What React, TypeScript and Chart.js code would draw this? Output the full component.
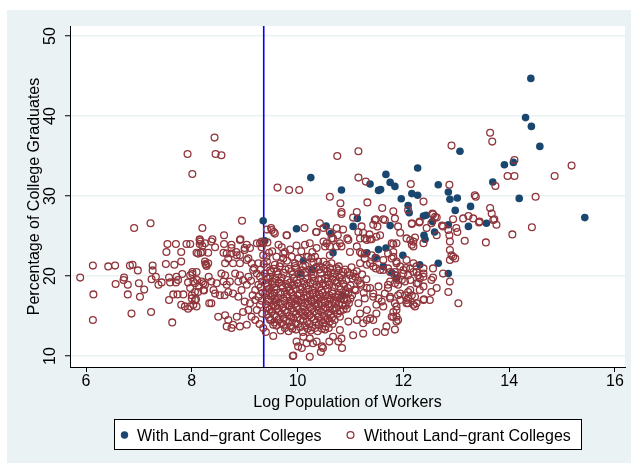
import React, { useEffect, useRef } from 'react';
import { Chart, registerables } from 'chart.js';

Chart.register(...registerables);

const FONT = '"Liberation Sans", Arial, Helvetica, sans-serif';
const NAVY = '#1A476F';
const MAROON = '#90353B';
const BG = '#EAF2F3';

const xTitle = 'Log Population of Workers';
const yTitle = 'Percentage of College Graduates';
const legendLabels = ['With Land\u2212grant Colleges', 'Without Land\u2212grant Colleges'];

const xTicks = [6, 8, 10, 12, 14, 16];
const yTicks = [10, 20, 30, 40, 50];
const xRange = [5.6975, 16.19];
const yRange = [8.625, 51.25];
const cutoffX = 9.36;

const withLandGrant: [number, number][] = [
  [9.35, 26.9], [9.38, 24.4], [9.98, 25.9], [10.25, 32.3], [10.83, 30.75], [10.54, 26.25],
  [10.63, 25.3], [11.05, 26.2], [11.13, 27.2], [11.37, 31.5], [11.53, 30.7], [11.57, 30.8],
  [11.67, 32.7], [11.75, 31.7], [11.84, 31.2], [11.96, 29.65], [12.09, 28.8], [12.11, 27.9],
  [12.16, 30.3], [12.27, 30.1], [12.27, 33.5], [12.38, 27.5], [12.43, 27.6], [12.55, 26.8],
  [12.66, 31.4], [12.85, 30.5], [12.85, 26.4], [12.39, 25.1], [12.41, 24.6], [11.75, 26.3],
  [11.31, 22.9], [11.53, 23.3], [11.67, 23.5], [10.11, 21.9], [10.06, 20.3], [10.28, 20.8],
  [10.67, 22.9], [11.47, 22.3], [11.62, 21.2], [11.99, 22.6], [11.78, 20.4], [11.87, 19.7],
  [12.31, 21.4], [12.66, 21.6], [12.85, 20.3], [10.86, 17.6], [14.41, 44.7], [14.31, 39.8],
  [14.42, 38.7], [14.58, 36.2], [13.07, 35.6], [13.91, 33.9], [14.08, 34.2], [13.69, 31.75],
  [14.19, 29.7], [15.43, 27.3], [12.88, 29.6], [13.02, 29.75], [13.27, 28.7], [12.98, 28.2],
  [13.57, 26.6], [13.23, 26.2], [12.59, 25.5],
];

const withoutLandGrant: [number, number][] = [
  // sparse left
  [5.89, 19.8], [6.13, 21.3], [6.42, 21.2], [6.55, 21.3], [6.83, 21.3], [6.88, 21.4], [6.98, 20.7],
  [6.72, 19.8], [6.71, 19.5], [6.56, 19.0], [6.79, 18.9], [7.0, 19.1], [7.1, 18.3], [6.14, 17.7],
  [6.79, 17.7], [7.02, 17.4], [6.86, 15.3], [7.23, 15.5], [6.13, 14.5], [7.63, 14.2],
  [6.91, 26.0], [7.22, 26.6], [8.2, 26.0],
  [7.26, 21.3], [7.26, 20.7], [7.24, 19.6], [7.32, 19.9], [7.37, 18.9], [7.43, 19.2], [7.51, 21.5],
  [7.52, 23.0], [7.54, 24.0], [7.7, 24.0], [7.8, 23.0], [7.67, 21.4], [7.8, 21.8], [7.9, 24.0],
  [7.97, 24.0], [7.57, 19.8], [7.71, 19.9], [7.74, 19.5], [7.82, 20.25], [7.59, 19.2], [7.7, 19.2],
  [7.93, 19.2], [8.01, 20.5], [8.01, 20.25], [7.57, 17.0], [7.65, 17.7], [7.73, 17.7], [7.84, 17.7],
  [7.8, 16.4], [7.87, 16.2], [7.93, 15.9], [7.97, 16.2], [8.03, 16.4], [8.09, 16.2], [8.0, 17.6],
  [8.08, 17.1], [8.15, 24.5], [8.15, 24.0], [8.2, 23.75], [8.17, 22.9], [8.09, 22.9], [8.26, 21.5],
  [8.28, 21.25], [8.27, 21.4], [8.1, 19.5], [8.22, 19.1], [8.23, 18.2], [8.14, 18.7], [8.06, 19.1],
  [8.33, 16.6], [8.32, 19.9],
  // upper outliers
  [8.43, 37.3], [7.92, 35.25], [8.45, 35.25], [8.56, 35.1], [8.01, 32.75], [8.61, 25.1], [8.95, 26.9],
  [8.92, 24.6], [8.15, 24.6], [8.39, 24.6], [9.62, 31.05], [9.84, 30.75], [10.03, 30.75], [9.42, 25.8],
  [9.5, 26.0], [9.55, 25.5], [9.8, 25.1], [10.13, 26.0], [10.35, 25.5], [10.42, 26.6],
  // left-middle
  [8.16, 24.3], [8.25, 24.1], [8.37, 24.3], [8.44, 23.6], [8.61, 24.0], [8.75, 23.9], [8.12, 22.8],
  [8.2, 23.0], [8.31, 22.9], [8.91, 24.5], [9.0, 23.5], [9.04, 23.9], [8.75, 22.8], [8.84, 23.0],
  [8.91, 22.6], [8.6, 22.9], [8.69, 22.2], [8.63, 21.6], [8.25, 21.8], [8.31, 21.6], [8.09, 20.5],
  [7.97, 20.1], [8.03, 19.3], [8.19, 19.3], [8.25, 18.9], [8.22, 18.25], [8.12, 18.0], [8.06, 18.0],
  [7.97, 18.5], [8.0, 17.2], [8.06, 17.0], [8.37, 19.3], [8.47, 19.1], [8.41, 18.25], [8.44, 17.8],
  [8.53, 17.6], [8.37, 16.6], [8.56, 20.3], [8.63, 20.1], [8.6, 19.3], [8.66, 18.9], [8.72, 19.3],
  [8.82, 20.3], [8.91, 20.1], [8.88, 19.3], [8.97, 19.5], [9.07, 19.9], [9.04, 18.9], [8.94, 18.25],
  [8.62, 17.6], [8.69, 18.0], [8.78, 17.8], [8.88, 17.4], [9.0, 16.8], [9.1, 16.6], [8.5, 14.9],
  [8.63, 15.1], [8.69, 14.5], [8.78, 13.9], [8.91, 13.7], [8.75, 13.5], [8.66, 13.7], [8.85, 14.9],
  [8.97, 15.5], [9.07, 15.75], [9.13, 14.9], [9.04, 13.9], [9.2, 14.5], [9.23, 15.75], [9.29, 16.4],
  [9.26, 17.4], [9.2, 18.25], [9.07, 22.2], [9.13, 21.6], [9.16, 20.75], [9.23, 20.3], [9.29, 19.9],
  [9.26, 18.9], [9.26, 21.6], [9.29, 24.1], [9.32, 24.3], [9.43, 24.2], [9.51, 25.75], [9.57, 25.3],
  [9.35, 22.6], [9.41, 22.4], [9.79, 25.1], [9.6, 22.4], [9.76, 23.0], [9.73, 22.2], [9.48, 19.9],
  [9.57, 19.1], [9.48, 17.8], [9.57, 17.2], [9.51, 16.2], [9.48, 14.5], [9.54, 13.9], [9.35, 13.5],
  [9.54, 12.5], [9.92, 10.05], [10.01, 11.2], [8.78, 21.6], [8.91, 21.6], [9.04, 22.0], [8.66, 22.8],
  [8.85, 22.6], [8.75, 23.5], [9.0, 23.25], [9.1, 23.5], [9.23, 24.1], [9.35, 24.1], [9.32, 23.6],
  [9.3, 20.8], [9.18, 21.0], [9.33, 19.3], [9.3, 18.6], [9.34, 17.9], [9.15, 17.6], [9.2, 17.0],
  [9.32, 16.9], [9.33, 15.3], [9.28, 14.0], [9.4, 13.0], [9.12, 19.4], [9.36, 21.5], [9.42, 21.8],
  // middle band
  [10.83, 27.75], [11.05, 27.3], [11.46, 27.0], [11.65, 27.0], [11.84, 27.2], [10.36, 25.5],
  [10.49, 26.0], [10.74, 26.0], [10.86, 25.8], [11.15, 25.5], [11.24, 25.4], [11.43, 26.4],
  [11.51, 26.2], [11.56, 25.1], [11.49, 24.9], [11.37, 24.6], [11.27, 24.7], [11.18, 24.7],
  [11.94, 25.4], [11.87, 24.1], [10.49, 24.3], [10.55, 24.1], [10.61, 23.7], [10.64, 24.7],
  [10.8, 24.1], [10.83, 23.7], [10.99, 23.0], [10.96, 24.5], [10.23, 24.1], [10.14, 23.9],
  [10.2, 22.4], [10.33, 22.4], [10.39, 21.8], [9.95, 21.6], [10.01, 22.2], [9.89, 22.4],
  [10.49, 21.8], [10.55, 21.4], [10.64, 21.6], [10.42, 21.2], [11.18, 23.0], [11.27, 22.8],
  [11.4, 22.6], [11.49, 22.2], [11.62, 22.0], [11.71, 22.8], [11.81, 22.4], [11.87, 21.6],
  [11.18, 21.6], [11.31, 21.4], [11.43, 21.2], [11.56, 20.75], [11.71, 20.95], [11.84, 20.5],
  [10.74, 20.95], [10.86, 20.5], [10.99, 20.1], [11.09, 19.9], [10.67, 19.9], [10.58, 20.1],
  [9.7, 23.6], [9.86, 23.3], [9.98, 23.8], [10.07, 23.1], [10.28, 23.0], [9.64, 23.9], [9.52, 23.1],
  [9.46, 22.9], [9.68, 21.6], [9.8, 21.9], [10.15, 21.3], [10.3, 21.7], [9.57, 21.4],
  // bottom
  [9.98, 11.8], [10.11, 12.4], [10.23, 12.2], [10.36, 11.8], [10.46, 11.2], [10.67, 12.4],
  [10.83, 12.2], [11.05, 12.6], [11.24, 12.8], [11.49, 13.0], [11.65, 13.0], [9.91, 10.0],
  [10.23, 9.9], [10.44, 10.5], [10.08, 11.0], [10.48, 11.0], [10.84, 11.0], [10.17, 11.6],
  [10.29, 11.6], [10.6, 11.8], [10.77, 11.8],
  // right of core
  [11.31, 15.75], [11.49, 16.4], [11.59, 16.8], [11.75, 17.2], [11.81, 14.9], [11.68, 13.7],
  [11.37, 18.5], [11.53, 18.7], [11.71, 18.5], [11.65, 17.8], [11.43, 17.4], [11.27, 17.2],
  [11.15, 16.6], [11.84, 20.1], [11.75, 19.3], [11.9, 18.9], [11.9, 17.6], [10.8, 14.9],
  [10.96, 14.3], [11.12, 14.5], [11.24, 14.1], [11.37, 14.7], [10.8, 13.25], [11.12, 20.6],
  [11.22, 20.2], [11.3, 19.6], [11.2, 18.9], [11.1, 18.2], [11.25, 17.9],
  // upper right
  [12.14, 31.5], [12.87, 31.4], [13.35, 30.1], [13.37, 29.9], [12.38, 29.3], [11.81, 28.1],
  [12.09, 28.25], [12.56, 27.7], [12.63, 27.3], [12.94, 27.1], [13.13, 27.2], [13.23, 27.5],
  [13.32, 27.2], [13.44, 26.8], [13.64, 28.5], [13.67, 27.8], [13.7, 27.0], [13.76, 26.4],
  [11.9, 26.2], [12.16, 26.6], [12.31, 26.8], [12.44, 26.0], [12.75, 26.2], [12.85, 25.75],
  [13.0, 26.0], [13.02, 25.5], [13.16, 24.4], [12.87, 25.1], [12.88, 24.3], [13.56, 24.2],
  [12.06, 24.7], [12.13, 24.5], [12.19, 24.3], [12.16, 23.9], [12.22, 24.8], [12.38, 24.1],
  [11.78, 24.1], [11.81, 23.0], [12.88, 23.25], [12.91, 22.6], [12.94, 22.4], [12.88, 22.0],
  [12.98, 22.2], [12.56, 20.95], [12.56, 19.8], [12.38, 20.95], [12.25, 21.2], [12.19, 20.5],
  [12.09, 20.1], [12.0, 20.3], [11.94, 21.2], [11.87, 21.8], [11.78, 22.2], [12.31, 19.7],
  [12.38, 18.7], [12.25, 19.1], [12.13, 19.5], [12.03, 19.3], [11.9, 19.5], [11.84, 19.1],
  [12.53, 18.0], [12.85, 18.0], [13.04, 16.6], [12.38, 17.0], [12.22, 17.4], [12.19, 16.4],
  [12.06, 16.6], [11.94, 17.0], [11.87, 16.2], [11.81, 15.5], [11.84, 13.3], [11.87, 14.9],
  [11.9, 14.5], [12.13, 18.25], [12.16, 17.6], [12.09, 17.2],
  [12.91, 36.3], [13.64, 37.9], [13.68, 36.8], [14.1, 34.5], [13.97, 32.5], [14.1, 32.5],
  [15.18, 33.8], [14.86, 32.5], [13.74, 31.25], [14.5, 29.9], [13.72, 27.1], [13.43, 26.7],
  [12.73, 26.3], [12.63, 25.1], [12.3, 26.7], [12.16, 26.5], [14.06, 25.2], [14.43, 26.1],
  [12.88, 19.3], [12.06, 22.0], [12.19, 21.6], [12.05, 21.0], [12.28, 20.1], [12.38, 20.3],
  [12.28, 19.1], [12.31, 18.25], [12.39, 17.1], [12.25, 16.6], [12.09, 18.0], [12.06, 17.0],
  [11.97, 19.5], [11.94, 17.8],
  [10.75, 35.0], [11.15, 35.6], [11.15, 32.3], [11.29, 31.8], [11.32, 29.2], [10.61, 29.9],
  [10.81, 29.1], [10.83, 28.0], [11.12, 28.0], [11.6, 28.5], [11.48, 27.1], [11.62, 27.1],
  [10.61, 25.5], [10.67, 24.7], [10.76, 25.1], [10.94, 24.7], [11.21, 26.2], [11.36, 25.2],
  [11.31, 24.5], [11.4, 24.6], [11.81, 24.0], [12.19, 23.7], [12.55, 27.8], [12.6, 27.4],
  [12.53, 26.6], [9.73, 22.8], [9.95, 21.25], [10.17, 22.4], [10.26, 22.2], [10.36, 23.5],
  [10.52, 23.7], [10.61, 22.6], [10.74, 23.7], [11.12, 23.7], [11.21, 22.8], [11.27, 22.2],
  [11.37, 21.6], [11.48, 20.95], [11.62, 20.75], [11.75, 20.5], [11.87, 20.1], [12.0, 20.75],
  [12.13, 20.95], [12.25, 20.5], [12.38, 19.9], [12.53, 19.5], [12.75, 20.3], [11.18, 19.1],
  [11.31, 18.5], [11.43, 17.8], [11.53, 17.2], [11.62, 16.2], [11.49, 15.3], [11.43, 14.5],
  [11.31, 14.5], [11.18, 15.3], [11.71, 18.9], [11.75, 17.4], [11.84, 16.6], [11.87, 15.75],
  [11.78, 14.9], [11.87, 14.3], [12.03, 17.6], [12.09, 16.6], [12.22, 16.2], [12.5, 17.0],
  [12.63, 18.5],
  // dense core
  [9.42, 21.1], [9.55, 20.9], [9.66, 21.2], [9.83, 20.9], [9.97, 21.0], [10.1, 21.2], [10.22, 20.8],
  [10.35, 21.1], [10.5, 20.9], [10.61, 21.0], [10.78, 21.2], [10.9, 20.8], [11.02, 21.1],
  [9.38, 20.3], [9.5, 20.5], [9.63, 20.2], [9.74, 20.4], [9.88, 20.6], [10.02, 20.3], [10.15, 20.5],
  [10.3, 20.2], [10.44, 20.4], [10.56, 20.6], [10.7, 20.3], [10.83, 20.1], [10.95, 20.5], [11.06, 20.3],
  [9.44, 19.7], [9.58, 19.6], [9.7, 19.8], [9.81, 19.5], [9.93, 19.7], [10.05, 19.9], [10.18, 19.6],
  [10.27, 19.8], [10.4, 19.5], [10.52, 19.7], [10.66, 19.6], [10.79, 19.8], [10.92, 19.5], [11.04, 19.7],
  [11.14, 19.4],
  [9.4, 19.1], [9.52, 18.9], [9.65, 19.2], [9.78, 19.0], [9.9, 18.8], [10.0, 19.1], [10.13, 19.0],
  [10.24, 19.2], [10.36, 18.9], [10.48, 19.1], [10.6, 18.9], [10.74, 19.2], [10.87, 19.0], [11.0, 18.8],
  [9.46, 18.4], [9.6, 18.3], [9.72, 18.5], [9.85, 18.2], [9.96, 18.4], [10.09, 18.6], [10.2, 18.3],
  [10.33, 18.5], [10.45, 18.2], [10.57, 18.4], [10.69, 18.6], [10.82, 18.3], [10.95, 18.5], [11.08, 18.3],
  [9.39, 17.8], [9.53, 17.6], [9.67, 17.9], [9.8, 17.7], [9.92, 17.5], [10.04, 17.8], [10.16, 17.6],
  [10.29, 17.9], [10.41, 17.7], [10.53, 17.5], [10.66, 17.8], [10.78, 17.7], [10.9, 17.9], [11.03, 17.6],
  [9.45, 17.1], [9.59, 17.0], [9.73, 17.2], [9.86, 16.9], [9.99, 17.1], [10.12, 17.3], [10.25, 17.0],
  [10.38, 17.2], [10.5, 16.9], [10.62, 17.1], [10.75, 17.3], [10.88, 17.0], [11.0, 17.2],
  [9.4, 16.5], [9.54, 16.4], [9.68, 16.6], [9.82, 16.3], [9.95, 16.5], [10.07, 16.7], [10.2, 16.4],
  [10.32, 16.6], [10.46, 16.3], [10.58, 16.5], [10.71, 16.7], [10.85, 16.4], [10.97, 16.6],
  [9.47, 15.8], [9.62, 15.9], [9.76, 15.7], [9.89, 16.0], [10.02, 15.8], [10.15, 15.6], [10.27, 15.9],
  [10.4, 15.7], [10.53, 16.0], [10.66, 15.8], [10.8, 15.6], [10.93, 15.9],
  [9.42, 15.2], [9.57, 15.1], [9.7, 15.3], [9.84, 15.0], [9.97, 15.2], [10.1, 15.4], [10.23, 15.1],
  [10.36, 15.3], [10.5, 15.0], [10.63, 15.2], [10.76, 15.3],
  [9.5, 14.5], [9.64, 14.6], [9.78, 14.4], [9.92, 14.7], [10.05, 14.5], [10.18, 14.3], [10.31, 14.6],
  [10.44, 14.4], [10.57, 14.7], [10.7, 14.5],
  [9.6, 13.8], [9.74, 13.9], [9.88, 13.7], [10.01, 14.0], [10.14, 13.8], [10.27, 13.6], [10.4, 13.9],
  [10.53, 13.7], [10.66, 14.0],
  [9.68, 13.2], [9.83, 13.1], [9.97, 13.3], [10.1, 13.0], [10.25, 13.2], [10.38, 13.1], [10.52, 13.3],
  // dense core, second layer
  [9.48, 20.7], [9.61, 20.6], [9.77, 20.8], [9.91, 20.2], [10.08, 20.7], [10.26, 20.5], [10.41, 20.8],
  [10.63, 20.4], [10.77, 20.7], [9.41, 19.9], [9.53, 19.3], [9.69, 19.4], [9.86, 19.2], [9.99, 19.5],
  [10.11, 19.3], [10.31, 19.4], [10.45, 19.6], [10.57, 19.3], [10.71, 19.4], [10.84, 19.5],
  [9.43, 18.7], [9.56, 18.6], [9.7, 18.8], [9.82, 18.6], [9.94, 18.9], [10.05, 18.3], [10.17, 18.8],
  [10.28, 18.2], [10.41, 18.6], [10.53, 18.8], [10.65, 18.1], [10.78, 18.7], [10.91, 18.1],
  [9.42, 18.1], [9.56, 17.9], [9.76, 18.0], [9.88, 17.9], [10.0, 17.6], [10.11, 18.0], [10.23, 17.7],
  [10.36, 17.5], [10.47, 17.9], [10.6, 17.6], [10.71, 17.4], [10.84, 17.5], [10.96, 17.8],
  [9.5, 17.4], [9.63, 17.3], [9.79, 17.4], [9.93, 17.2], [10.07, 17.0], [10.19, 17.3], [10.32, 17.0],
  [10.44, 17.4], [10.56, 17.2], [10.69, 16.9], [10.82, 17.2], [10.94, 16.9],
  [9.45, 16.8], [9.6, 16.7], [9.75, 16.9], [9.88, 16.6], [10.01, 16.9], [10.14, 16.6], [10.26, 16.8],
  [10.39, 16.5], [10.52, 16.7], [10.64, 16.4], [10.78, 16.6], [10.91, 16.3],
  [9.44, 16.1], [9.58, 16.2], [9.71, 16.0], [9.85, 16.3], [9.98, 16.1], [10.11, 16.2], [10.24, 16.1],
  [10.36, 16.2], [10.49, 15.8], [10.61, 16.1], [10.73, 16.0], [10.87, 15.8],
  [9.5, 15.5], [9.64, 15.6], [9.8, 15.4], [9.93, 15.6], [10.06, 15.5], [10.19, 15.3], [10.31, 15.6],
  [10.45, 15.5], [10.58, 15.4], [10.7, 15.7],
  [9.46, 14.8], [9.6, 14.9], [9.74, 14.7], [9.88, 14.9], [10.0, 14.8], [10.13, 15.0], [10.26, 14.8],
  [10.4, 14.9], [10.52, 14.5], [10.65, 14.8],
  [9.56, 14.2], [9.7, 14.1], [9.84, 14.3], [9.97, 14.1], [10.1, 14.4], [10.22, 14.0], [10.35, 14.2],
  [10.48, 14.1], [10.61, 14.3], [9.76, 13.5], [9.9, 13.4], [10.05, 13.6], [10.19, 13.4], [10.33, 13.5],
  [10.46, 13.4], [10.59, 13.5],
];

function App() {
  const canvasRef = useRef<HTMLCanvasElement | null>(null);

  useEffect(() => {
    const canvas = canvasRef.current;
    if (!canvas) return;

    const decor = {
      id: 'decor',
      beforeDraw(chart: any) {
        const { ctx, chartArea } = chart;
        ctx.save();
        ctx.fillStyle = '#ffffff';
        ctx.fillRect(0, 0, chart.width, chart.height);
        ctx.fillStyle = BG;
        ctx.fillRect(7, 10, chart.width - 7, 453);
        ctx.fillStyle = '#ffffff';
        ctx.fillRect(chartArea.left, chartArea.top, chartArea.right - chartArea.left, chartArea.bottom - chartArea.top);
        ctx.restore();
      },
      afterDraw(chart: any) {
        const { ctx, chartArea } = chart;
        const ys = chart.scales.y;
        const cx = (chartArea.left + chartArea.right) / 2;
        const cy = (chartArea.top + chartArea.bottom) / 2;
        ctx.save();
        ctx.fillStyle = '#000000';
        ctx.font = `16px ${FONT}`;
        ctx.textAlign = 'center';
        ctx.textBaseline = 'alphabetic';
        yTicks.forEach((v) => {
          const py = ys.getPixelForValue(v);
          ctx.save();
          ctx.translate(55, py);
          ctx.rotate(-Math.PI / 2);
          ctx.fillText(String(v), 0, 0);
          ctx.restore();
        });
        ctx.save();
        ctx.translate(38.5, cy);
        ctx.rotate(-Math.PI / 2);
        ctx.fillText(yTitle, 0, 0);
        ctx.restore();
        ctx.fillText(xTitle, cx, 406.5);

        // legend
        const lw = 467;
        const lx = Math.round(cx - lw / 2) + 0.5;
        const ly = 419.5;
        ctx.fillStyle = '#ffffff';
        ctx.fillRect(lx, ly, lw, 30);
        ctx.strokeStyle = '#000000';
        ctx.lineWidth = 1;
        ctx.strokeRect(lx, ly, lw, 30);
        const my = 435;
        ctx.fillStyle = NAVY;
        ctx.beginPath();
        ctx.arc(lx + 10, my, 3.7, 0, Math.PI * 2);
        ctx.fill();
        ctx.strokeStyle = MAROON;
        ctx.lineWidth = 1.3;
        ctx.beginPath();
        ctx.arc(lx + 236, my, 3.4, 0, Math.PI * 2);
        ctx.stroke();
        ctx.fillStyle = '#000000';
        ctx.textAlign = 'left';
        ctx.fillText(legendLabels[0], lx + 22.5, 440.5);
        ctx.fillText(legendLabels[1], lx + 249.5, 440.5);
        ctx.restore();
      },
    };

    const chart = new Chart(canvas, {
      type: 'scatter',
      data: {
        datasets: [
          {
            label: legendLabels[1],
            data: withoutLandGrant.map(([x, y]) => ({ x, y })),
            pointStyle: 'circle',
            pointRadius: 3.4,
            pointHoverRadius: 3.4,
            borderWidth: 1.3,
            borderColor: MAROON,
            backgroundColor: 'rgba(0,0,0,0)',
          },
          {
            label: legendLabels[0],
            data: withLandGrant.map(([x, y]) => ({ x, y })),
            pointStyle: 'circle',
            pointRadius: 3.8,
            pointHoverRadius: 3.8,
            borderWidth: 0,
            borderColor: NAVY,
            backgroundColor: NAVY,
          },
          {
            type: 'line',
            label: 'cutoff',
            data: [
              { x: cutoffX, y: yRange[0] },
              { x: cutoffX, y: yRange[1] },
            ],
            borderColor: '#0000FF',
            borderWidth: 1.6,
            pointRadius: 0,
            fill: false,
            showLine: true,
          } as any,
        ],
      },
      options: {
        responsive: false,
        animation: false,
        devicePixelRatio: 1,
        layout: { padding: { left: 0, top: 26, right: 6, bottom: 0 } },
        plugins: {
          legend: { display: false },
          tooltip: { enabled: false },
          title: { display: false },
        },
        font: { family: FONT },
        scales: {
          x: {
            type: 'linear',
            min: xRange[0],
            max: xRange[1],
            afterBuildTicks: (s: any) => {
              s.ticks = xTicks.map((v) => ({ value: v }));
            },
            afterFit: (s: any) => {
              s.height = 98;
            },
            grid: {
              drawOnChartArea: false,
              drawTicks: true,
              tickLength: 5,
              tickColor: '#000000',
              tickWidth: 1,
            },
            border: { color: '#000000', width: 1 },
            ticks: {
              font: { family: FONT, size: 16 },
              color: '#000000',
              padding: 0,
              maxRotation: 0,
              autoSkip: false,
              callback: (v: any) => String(v),
            },
          },
          y: {
            type: 'linear',
            min: yRange[0],
            max: yRange[1],
            afterBuildTicks: (s: any) => {
              s.ticks = yTicks.map((v) => ({ value: v }));
            },
            afterFit: (s: any) => {
              s.width = 70;
            },
            grid: {
              color: BG,
              lineWidth: 1.5,
              drawTicks: true,
              tickLength: 5,
              tickColor: '#000000',
              tickWidth: 1,
            },
            border: { color: '#000000', width: 1 },
            ticks: { display: false },
          },
        },
      } as any,
      plugins: [decor],
    });

    return () => {
      chart.destroy();
    };
  }, []);

  return (
    <div style={{ position: 'fixed', left: 0, top: 0, width: 631, height: 465, background: '#ffffff' }}>
      <canvas ref={canvasRef} width={631} height={465} style={{ display: 'block', width: 631, height: 465 }} />
    </div>
  );
}

export default App;
